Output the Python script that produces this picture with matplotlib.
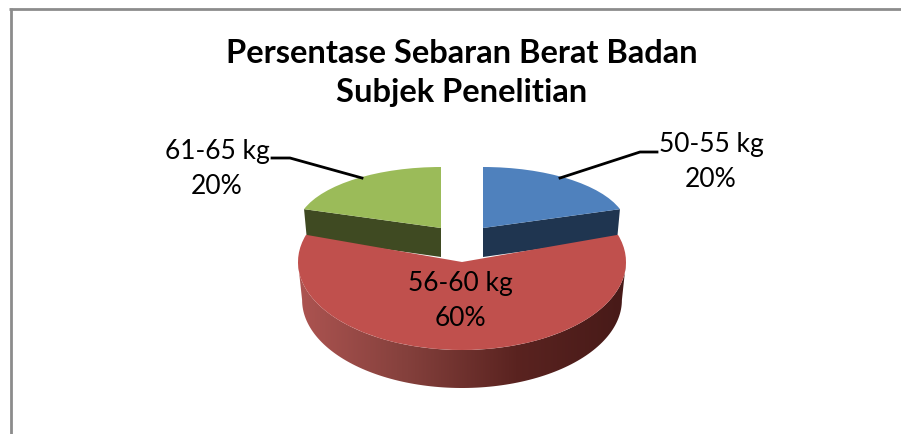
import numpy as np
import matplotlib
matplotlib.use('Agg')
import matplotlib.pyplot as plt
from matplotlib.colors import LinearSegmentedColormap
from matplotlib.patches import PathPatch, Polygon
from matplotlib.path import Path
from matplotlib.transforms import Affine2D

title = 'Persentase Sebaran Berat Badan\nSubjek Penelitian'
categories = ['50-55 kg', '56-60 kg', '61-65 kg']
values = [20, 60, 20]
top_colors = ['#4F81BD', '#C0504D', '#9BBB59']
side_colors = ['#1F3550', '#7A302E', '#3F4A22']

plt.rcParams['font.family'] = ['Lato', 'DejaVu Sans']

fig = plt.figure(figsize=(9.01, 4.34), dpi=100)
ax = fig.add_axes([0, 0, 1, 1])

wedges, _ = ax.pie(values, colors=top_colors, startangle=90, counterclock=False)
ax.set_aspect('auto')
ax.set_xlim(0, 901)
ax.set_ylim(434, 0)
ax.axis('off')

# centre x, centre y, rx, ry, depth of every slice top (pixel space)
geom = [(483, 228, 144, 61, 29),
        (462, 262, 164, 88, 38),
        (441, 228, 144, 61, 29)]


def rim(g, deg, down=0.0, shrink=1.0):
    t = np.radians(deg)
    return np.column_stack([g[0] + g[2] * shrink * np.cos(t),
                            g[1] + down - g[3] * np.sin(t)])


# back slices first, red last so it covers their walls
for i in [0, 2, 1]:
    w, g = wedges[i], geom[i]
    w.set_transform(Affine2D().scale(g[2], -g[3]).translate(g[0], g[1]) + ax.transData)
    w.set_zorder(5 if i != 1 else 8)
    w.set_linewidth(0)

# walls of the two small slices, cut face only
for i, edge in [(0, 18), (2, 162)]:
    g = geom[i]
    a = np.array([[g[0], g[1]]])
    pts = np.vstack([a, rim(g, [edge]), rim(g, [edge], g[4], 0.98), a + [0, g[4]]])
    ax.add_patch(Polygon(pts, closed=True, fc=side_colors[i], ec='none', zorder=4))

# front wall of the big slice, shaded left to right
g = geom[1]
arc = np.linspace(180, 360, 120)
wall = np.vstack([rim(g, arc), rim(g, arc[::-1], g[4], 0.975)])
wall_patch = PathPatch(Path(np.vstack([wall, wall[0]]), closed=True), fc='none', ec='none', zorder=6)
ax.add_patch(wall_patch)
cmap = LinearSegmentedColormap.from_list('wall', ['#AD5451', '#84403C', '#5A2320', '#471A18'])
img = ax.imshow(np.linspace(0, 1, 256).reshape(1, -1), extent=(298, 626, 400, 260), cmap=cmap,
                aspect='auto', zorder=7)
img.set_clip_path(wall_patch)
ax.set_xlim(0, 901)
ax.set_ylim(434, 0)

# outer frame
ax.plot([10.5, 10.5], [434, 8], color='#8C8C8C', lw=2, solid_capstyle='butt', zorder=1)
ax.plot([9, 901], [8.5, 8.5], color='#8C8C8C', lw=2, solid_capstyle='butt', zorder=1)

# leader lines
ax.plot([560, 640, 657], [178, 152, 152], color='black', lw=2, zorder=9)
ax.plot([362, 290, 272], [178, 158, 158], color='black', lw=2, zorder=9)

ax.text(462, 73, title, ha='center', va='center', fontsize=23.5, fontweight='bold',
        color='black', linespacing=1.42, zorder=10)

label_size = 19
label_pos = [(711, 162), (460, 301), (217, 169)]
for name, val, pos in zip(categories, values, label_pos):
    ax.text(pos[0], pos[1], '%s\n%d%%' % (name, val), ha='center', va='center',
            fontsize=label_size, color='black', linespacing=1.5, zorder=10)

fig.savefig('out.png', dpi=100)
